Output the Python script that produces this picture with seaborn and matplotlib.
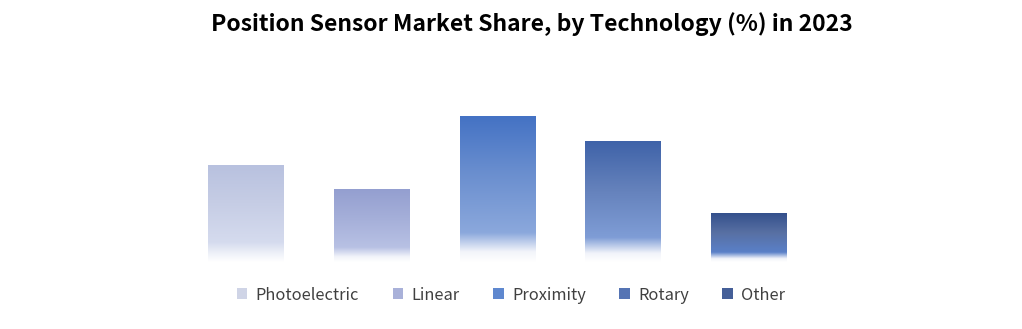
import numpy as np
import pandas as pd
import seaborn as sns
import matplotlib
matplotlib.use("Agg")
import matplotlib.pyplot as plt
from matplotlib.colors import LinearSegmentedColormap
from matplotlib.patches import Patch

categories = ["Photoelectric", "Linear", "Proximity", "Rotary", "Other"]
shares = [20, 15, 30, 25, 10]
top_colors = ["#b8c1df", "#949fd0", "#4472c4", "#3e62a8", "#34508c"]
mid_colors = ["#c6cde5", "#a5afd9", "#6b8fcf", "#6481bb", "#5870a3"]
low_colors = ["#d5dbee", "#b8c1e4", "#8ba8dc", "#7f9dd6", "#5a80c8"]
legend_colors = ["#cfd4e6", "#a9b1d9", "#5f88cf", "#5574b4", "#455f98"]

sns.set_theme(style="white")
plt.rcParams['font.family'] = ['Noto Sans CJK KR', 'DejaVu Sans']

fig = plt.figure(figsize=(10.22, 3.29), dpi=100)
ax = fig.add_axes([0.1786, 0.2036, 0.616, 0.5167])

df = pd.DataFrame({"tech": categories, "share": shares})
sns.barplot(data=df, x="tech", y="share", hue="tech", palette=top_colors,
            width=0.6, saturation=1, legend=False, ax=ax)

grad = np.linspace(0, 1, 256).reshape(-1, 1)
for p, ct, cm, cl in zip(ax.patches, top_colors, mid_colors, low_colors):
    x0, y0 = p.get_x(), p.get_y()
    w, h = p.get_width(), p.get_height()
    cmap = LinearSegmentedColormap.from_list(
        "g", [(0, "white"), (0.07, "#f2f4fa"), (0.2, cl), (0.6, cm), (1, ct)])
    im = ax.imshow(grad, extent=[x0, x0 + w, y0, y0 + h], origin="lower",
                   cmap=cmap, aspect="auto", zorder=3, interpolation="bilinear")
    im.set_clip_path(p)
    p.set_facecolor("none")
    p.set_edgecolor("none")

ax.set_xlim(-0.5, 4.5)
ax.set_ylim(0, 35)
ax.axis("off")

handles = [Patch(facecolor=c, edgecolor="none") for c in legend_colors]
fig.legend(handles, categories, loc="center", bbox_to_anchor=(0.5, 0.103),
           ncol=5, frameon=False, fontsize=11.8, handlelength=0.65, handleheight=0.65,
           handletextpad=0.5, columnspacing=2.05, labelcolor="#404040")

fig.text(0.52, 0.928, "Position Sensor Market Share, by Technology (%) in 2023",
         ha="center", va="center", fontsize=16.5, fontweight="bold", color="#000000")

fig.savefig("out.png", dpi=100)
